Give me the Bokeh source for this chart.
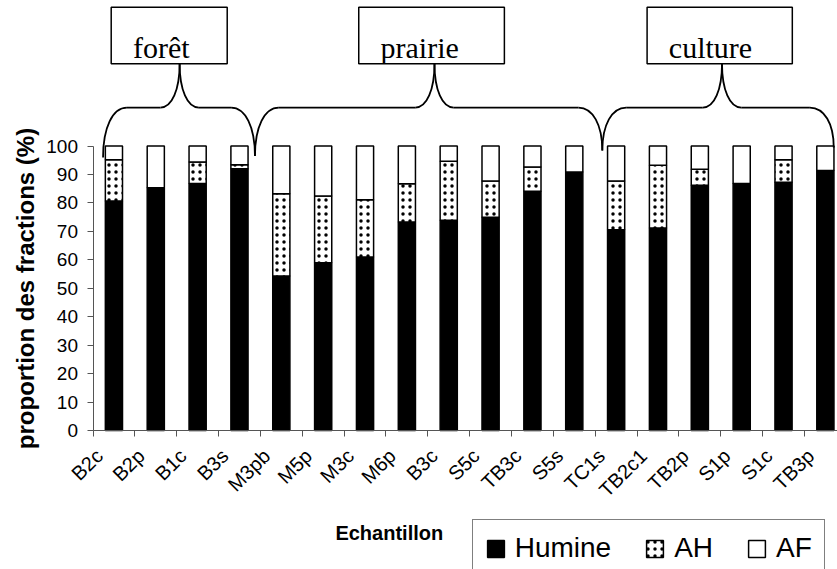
from math import pi
from bokeh.plotting import figure
from bokeh.models import Range1d, FixedTicker, Legend, LegendItem, Label, ColumnDataSource
from bokeh.core.properties import value
from bokeh.embed import file_html
from bokeh.resources import INLINE

# ---- data ----
samples = ["B2c", "B2p", "B1c", "B3s", "M3pb", "M5p", "M3c", "M6p", "B3c",
           "S5c", "TB3c", "S5s", "TC1s", "TB2c1", "TB2p", "S1p", "S1c", "TB3p"]
humine = [80.7, 85.3, 86.8, 92.0, 54.3, 59.0, 61.0, 73.3, 73.9,
          75.0, 84.1, 90.9, 70.6, 71.2, 86.2, 86.8, 87.3, 91.4]
ah = [14.5, 0.0, 7.6, 1.4, 28.9, 23.4, 20.1, 13.4, 20.7,
      12.7, 8.5, 0.0, 17.1, 22.0, 5.6, 0.0, 7.9, 0.0]
af = [4.8, 14.7, 5.6, 6.6, 16.8, 17.6, 18.9, 13.3, 5.4,
      12.3, 7.4, 9.1, 12.3, 6.8, 8.2, 13.2, 4.8, 8.6]
y_ticks = [0, 10, 20, 30, 40, 50, 60, 70, 80, 90, 100]

# land-use groups (annotation): name, bracket ends and peak (category units)
group_names = ["forêt", "prairie", "culture"]
group_left = [0.24, 3.87, 12.17]
group_right = [3.87, 12.17, 17.70]
group_peak = [2.07, 8.16, 15.03]
group_end_left = [96.0, 96.5, 98.4]
group_end_right = [96.5, 98.4, 99.5]
box_left = [0.435, 6.35, 13.24]
box_right = [3.207, 9.83, 16.71]

n = len(samples)
x = [i + 0.5 for i in range(n)]
b1 = humine
b2 = [h + a for h, a in zip(humine, ah)]
b3 = [h + a + f for h, a, f in zip(humine, ah, af)]
src = ColumnDataSource(dict(x=x, h=b1, ha=b2, top=b3))

XPX = 41.85   # px per category
YPX = 2.845   # px per percent
X0, Y0 = 92.5, 430.0  # pixel position of the axes origin
W_, H_ = 837, 569

p = figure(width=W_, height=H_, output_backend="svg", toolbar_location=None,
           x_range=Range1d(-X0 / XPX, (W_ - X0) / XPX),
           y_range=Range1d(-(H_ - Y0) / YPX, Y0 / YPX),
           min_border_left=0, min_border_right=0, min_border_top=0, min_border_bottom=0)
p.outline_line_color = None
p.xgrid.visible = False
p.ygrid.visible = False
p.background_fill_color = "white"

W = 0.41
r1 = p.vbar(x="x", bottom=0, top="h", width=W, source=src, fill_color="black",
            line_color="black", line_width=1.5)
r2 = p.vbar(x="x", bottom="h", top="ha", width=W, source=src, fill_color="white",
            line_color="black", line_width=1.5, hatch_pattern="dot", hatch_color="black",
            hatch_scale=7, hatch_weight=0.3)
r3 = p.vbar(x="x", bottom="ha", top="top", width=W, source=src, fill_color="white",
            line_color="black", line_width=1.5)

# ---- brackets ----
ym, yt = 113.5, 129.0
dxe, dxp = 0.57, 0.46
bx0, by0, bx1, by1, bcx0, bcy0, bcx1, bcy1 = ([] for _ in range(8))
sx0, sy0, sx1, sy1 = [], [], [], []
for xl, xr, xp, yl, yr in zip(group_left, group_right, group_peak, group_end_left, group_end_right):
    bx0.append(xl); by0.append(yl); bx1.append(xl + dxe); by1.append(ym)
    bcx0.append(xl); bcy0.append(yl + 0.6 * (ym - yl)); bcx1.append(xl + 0.4 * dxe); bcy1.append(ym)
    bx0.append(xr); by0.append(yr); bx1.append(xr - dxe); by1.append(ym)
    bcx0.append(xr); bcy0.append(yr + 0.6 * (ym - yr)); bcx1.append(xr - 0.4 * dxe); bcy1.append(ym)
    for s in (-1, 1):
        bx0.append(xp + s * dxp); by0.append(ym); bx1.append(xp); by1.append(yt)
        bcx0.append(xp + s * 0.4 * dxp); bcy0.append(ym); bcx1.append(xp); bcy1.append(yt - 0.6 * (yt - ym))
    sx0 += [xl + dxe, xp + dxp]; sx1 += [xp - dxp, xr - dxe]; sy0 += [ym, ym]; sy1 += [ym, ym]

p.bezier(x0=bx0, y0=by0, x1=bx1, y1=by1, cx0=bcx0, cy0=bcy0, cx1=bcx1, cy1=bcy1,
         line_color="black", line_width=1.8)
p.segment(x0=sx0, y0=sy0, x1=sx1, y1=sy1, line_color="black", line_width=1.8)

p.quad(left=box_left, right=box_right, bottom=[128.9] * 3, top=[148.8] * 3,
       fill_color="white", line_color="black", line_width=1.5)
p.text(x=[b + 0.52 for b in box_left], y=[134.7] * 3, text=group_names,
       text_font=value("Liberation Serif"), text_font_size="30px",
       text_align="left", text_baseline="alphabetic", text_color="black")

# ---- axes ----
yax = p.yaxis[0]
yax.fixed_location = 0
yax.bounds = (0, 100)
yax.ticker = FixedTicker(ticks=y_ticks)
yax.major_tick_in = 0
yax.major_tick_out = 6
yax.minor_tick_out = 0
yax.axis_line_color = "#555555"
yax.major_tick_line_color = "#555555"
yax.major_label_text_font = "Liberation Sans"
yax.major_label_text_font_size = "19px"
yax.major_label_text_color = "black"
yax.major_label_standoff = 9
yax.axis_label = "proportion des fractions (%)"
yax.axis_label_text_font = "Liberation Sans"
yax.axis_label_text_font_style = "bold"
yax.axis_label_text_font_size = "24px"
yax.axis_label_text_color = "black"
yax.axis_label_standoff = 5

label_pos = [xx - 0.35 for xx in x]
xax = p.xaxis[0]
xax.fixed_location = 0
xax.bounds = (0, n)
xax.ticker = FixedTicker(ticks=label_pos, minor_ticks=list(range(n + 1)))
xax.major_label_overrides = {xx: s for xx, s in zip(label_pos, samples)}
xax.major_tick_in = 0
xax.major_tick_out = 0
xax.minor_tick_in = 0
xax.minor_tick_out = 6
xax.axis_line_color = "#555555"
xax.minor_tick_line_color = "#555555"
xax.major_label_orientation = pi / 4
xax.major_label_text_font = "Liberation Sans"
xax.major_label_text_font_size = "20px"
xax.major_label_text_color = "black"
xax.major_label_standoff = 16

p.add_layout(Label(x=7.08, y=-36.0, text="Echantillon", text_align="center",
                   text_baseline="middle", text_font="Liberation Sans",
                   text_font_style="bold", text_font_size="20px", text_color="black"))

legend = Legend(items=[LegendItem(label="Humine", renderers=[r1]),
                       LegendItem(label="AH", renderers=[r2]),
                       LegendItem(label="AF", renderers=[r3])],
                orientation="horizontal", location=(471.7, -8))
legend.glyph_width = 21
legend.glyph_height = 21
legend.label_text_font = "Liberation Sans"
legend.label_text_font_size = "28px"
legend.label_text_color = "black"
legend.label_standoff = 9
legend.label_height = 30
legend.spacing = 33
legend.padding = 12
legend.border_line_color = "black"
legend.border_line_width = 1
legend.background_fill_color = "white"
legend.background_fill_alpha = 1
p.add_layout(legend)

open("out.html", "w").write(file_html(p, INLINE))
